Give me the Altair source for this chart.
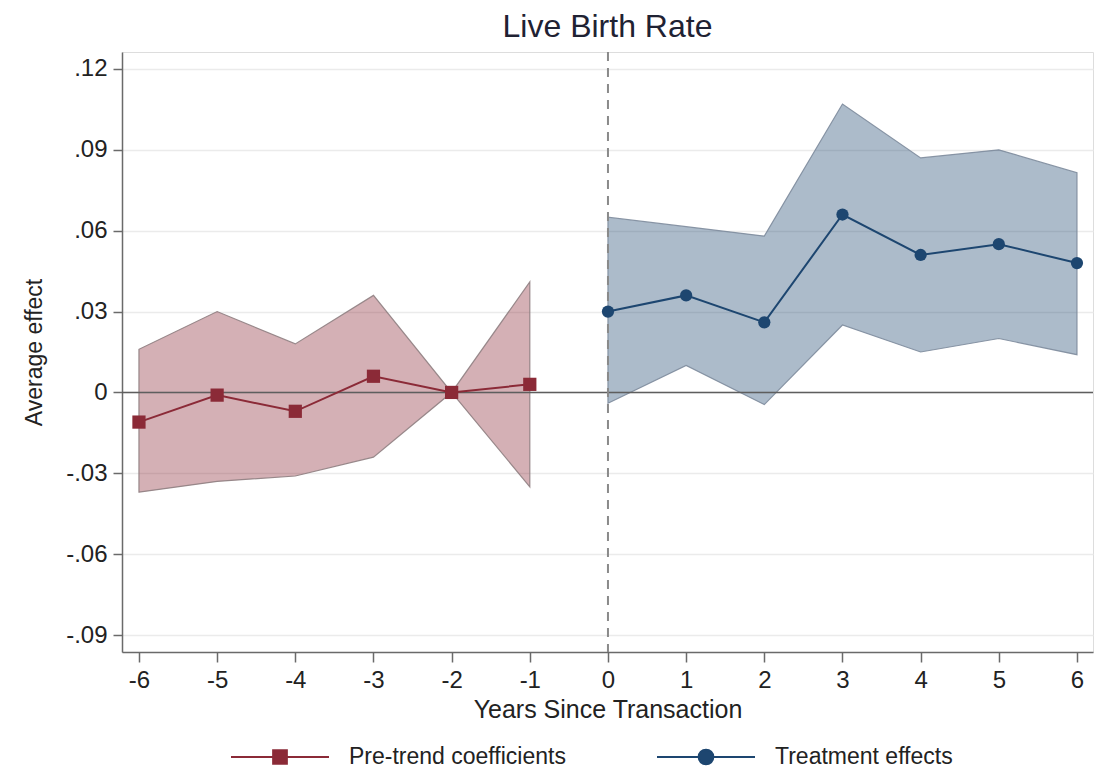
import altair as alt
import pandas as pd

# ---- data ----
pre_years = [-6, -5, -4, -3, -2, -1]
pre_coef = [-0.011, -0.001, -0.007, 0.006, 0.0, 0.003]
pre_lo = [-0.037, -0.033, -0.031, -0.024, 0.0, -0.035]
pre_hi = [0.016, 0.030, 0.018, 0.036, 0.0, 0.041]

post_years = [0, 1, 2, 3, 4, 5, 6]
post_coef = [0.030, 0.036, 0.026, 0.066, 0.051, 0.055, 0.048]
post_lo = [-0.004, 0.010, -0.0045, 0.025, 0.015, 0.020, 0.014]
post_hi = [0.065, 0.0615, 0.058, 0.107, 0.087, 0.090, 0.0815]

x_ticks = [-6, -5, -4, -3, -2, -1, 0, 1, 2, 3, 4, 5, 6]
y_ticks = [-0.09, -0.06, -0.03, 0.0, 0.03, 0.06, 0.09, 0.12]
zero_line = [0.0]
event_line = [0]

pre_name = "Pre-trend coefficients"
post_name = "Treatment effects"

pre_df = pd.DataFrame({"x": pre_years, "b": pre_coef, "lo": pre_lo, "hi": pre_hi,
                       "series": [pre_name] * len(pre_years)})
post_df = pd.DataFrame({"x": post_years, "b": post_coef, "lo": post_lo, "hi": post_hi,
                        "series": [post_name] * len(post_years)})
zero_df = pd.DataFrame({"b": zero_line})
event_df = pd.DataFrame({"x": event_line})

FONT = "Liberation Sans, Arial, Helvetica, sans-serif"
RED = "#8b2a37"
BLUE = "#1d4670"
AXIS_C = "#6a6a6a"

xscale = alt.Scale(domain=[-6.217, 6.205], nice=False, zero=False)
yscale = alt.Scale(domain=[-0.0963, 0.1263], nice=False, zero=False)

x_axis = alt.Axis(values=x_ticks, labelExpr="'' + datum.value", title="Years Since Transaction",
                  grid=False, tickSize=10, tickWidth=1.5, tickColor=AXIS_C,
                  domainColor=AXIS_C, domainWidth=1.5, labelFont=FONT, labelFontSize=24,
                  labelColor="#222222", labelPadding=6, titleFont=FONT, titleFontSize=25,
                  titleFontWeight="normal", titleColor="#222222", titleY=57,
                  titleBaseline="middle")
y_axis = alt.Axis(values=y_ticks,
                  labelExpr="datum.value == 0 ? '0' : (datum.value < 0 ? '-' : '') + replace(format(abs(datum.value), '.2f'), '0.', '.')",
                  title="Average effect", grid=True, gridColor="#ebebeb", gridWidth=1.5,
                  tickSize=9, tickWidth=1.5, tickColor=AXIS_C, domainColor=AXIS_C,
                  domainWidth=1.5, labelFont=FONT, labelFontSize=24, labelColor="#222222",
                  labelPadding=6, titleFont=FONT, titleFontSize=23, titleFontWeight="normal",
                  titleColor="#222222", titleX=-88, titleY=300, titleAngle=-90,
                  titleBaseline="middle", titleAlign="center")

X = alt.X("x:Q", scale=xscale, axis=x_axis)
Y = alt.Y("b:Q", scale=yscale, axis=y_axis)

sq_path = "M-1,0H-0.14M0.14,0H1M-0.14,-0.14H0.14V0.14H-0.14Z"
ci_path = "M-1,0H-0.15M0.15,0H1M0.15,0A0.15,0.15 0 1,1 -0.15,0A0.15,0.15 0 1,1 0.15,0Z"


def legend_for(path, color, lx):
    return alt.Legend(title=None, orient="none", legendX=lx, legendY=655,
                      symbolType=path, symbolSize=9604, symbolStrokeColor=color,
                      symbolStrokeWidth=2, symbolOpacity=1, labelFont=FONT, labelFontSize=23,
                      labelColor="#222222", labelOffset=19, labelLimit=500, padding=0)


pre_area = alt.Chart(pre_df).mark_area(fill=RED, fillOpacity=0.37, stroke="#8e7e81",
                                       strokeWidth=1.2, strokeOpacity=0.9).encode(
    x=X, y=alt.Y("lo:Q", scale=yscale, axis=y_axis), y2="hi:Q")
post_area = alt.Chart(post_df).mark_area(fill=BLUE, fillOpacity=0.37, stroke="#7d8b9c",
                                         strokeWidth=1.2, strokeOpacity=0.9).encode(
    x=X, y=alt.Y("lo:Q", scale=yscale, axis=y_axis), y2="hi:Q")

zero_rule = alt.Chart(zero_df).mark_rule(color="#5e5e5e", strokeWidth=1.5).encode(y=Y)
event_rule = alt.Chart(event_df).mark_rule(color="#8a8a8a", strokeWidth=2,
                                           strokeDash=[9, 7]).encode(x=X)

pre_line = alt.Chart(pre_df).mark_line(color=RED, strokeWidth=2).encode(x=X, y=Y)
post_line = alt.Chart(post_df).mark_line(color=BLUE, strokeWidth=2).encode(x=X, y=Y)

pre_pts = alt.Chart(pre_df).mark_point(shape="square", filled=True, size=175, opacity=1).encode(
    x=X, y=Y,
    fill=alt.Fill("series:N", scale=alt.Scale(domain=[pre_name], range=[RED]),
                  legend=legend_for(sq_path, RED, 108)))
post_pts = alt.Chart(post_df).mark_point(shape="circle", filled=True, size=150, opacity=1).encode(
    x=X, y=Y,
    fill=alt.Fill("series:N", scale=alt.Scale(domain=[post_name], range=[BLUE]),
                  legend=legend_for(ci_path, BLUE, 534)))

chart = alt.layer(pre_area, post_area, zero_rule, event_rule, pre_line, post_line,
                  pre_pts, post_pts).resolve_scale(fill="independent").resolve_legend(
    fill="independent").properties(
    width=971, height=600,
    title=alt.Title("Live Birth Rate", font=FONT, fontSize=32, fontWeight="normal",
                    color="#1f2233", anchor="middle", offset=7),
    autosize=alt.AutoSizeParams(type="none"),
    padding={"left": 114, "top": 44, "right": 6, "bottom": 118},
).configure_view(stroke=None).configure(background="white")

chart.save("out.html", embed_options={"renderer": "svg", "actions": False})
